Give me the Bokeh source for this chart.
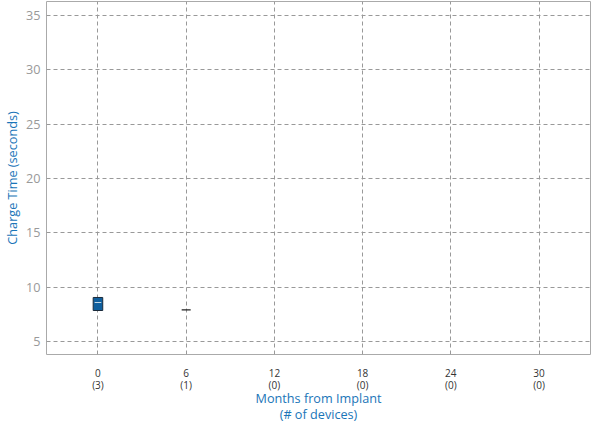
from bokeh.plotting import figure
from bokeh.embed import file_html
from bokeh.resources import INLINE
from bokeh.models import FixedTicker, ColumnDataSource, LinearAxis

months = [0, 6, 12, 18, 24, 30]
devices = [3, 1, 0, 0, 0, 0]

# box data (month 0)
box_x = [0]
box_q1 = [7.85]
box_q3 = [9.05]
box_med = [8.6]
# single device values
single_x = [6]
single_y = [7.9]

x_title = ["Months from Implant", "(# of devices)"]
y_title = "Charge Time (seconds)"
y_ticks = [5, 10, 15, 20, 25, 30, 35]

FONT = "Open Sans"
BLUE = "#1a75b8"

p = figure(width=591, height=425, output_backend="svg", toolbar_location=None,
           x_range=(-3.5, 33.5), y_range=(3.8, 36.3),
           min_border_left=43, min_border_right=1, min_border_top=1, min_border_bottom=0)

p.outline_line_color = "#aaaaaa"
p.outline_line_width = 1


def style(ax):
    ax.axis_line_color = None
    ax.major_tick_line_color = None
    ax.minor_tick_line_color = None
    ax.major_tick_out = 0
    ax.major_tick_in = 0
    ax.minor_tick_out = 0
    ax.minor_tick_in = 0
    ax.major_label_text_font = FONT
    ax.axis_label_text_font = FONT
    ax.axis_label_text_font_style = "normal"
    ax.axis_label_text_color = BLUE


# row 1: month numbers
ax1 = p.xaxis[0]
style(ax1)
ax1.ticker = FixedTicker(ticks=months)
ax1.major_label_text_color = "#333333"
ax1.major_label_text_font_size = "7.5pt"
ax1.major_label_standoff = 14

# row 2: device counts
ax2 = LinearAxis(ticker=FixedTicker(ticks=months))
style(ax2)
ax2.major_label_overrides = {m: f"({d})" for m, d in zip(months, devices)}
ax2.major_label_text_color = "#333333"
ax2.major_label_text_font_size = "7.5pt"
ax2.major_label_standoff = -2
p.add_layout(ax2, "below")

# axis title lines
for txt, so in zip(x_title, [-6, -5]):
    ax = LinearAxis(ticker=FixedTicker(ticks=[]))
    style(ax)
    ax.major_label_standoff = 0
    ax.major_label_text_font_size = "0pt"
    ax.axis_label = txt
    ax.axis_label_standoff = so
    ax.axis_label_text_font_size = "9.5pt"
    p.add_layout(ax, "below")

style(p.yaxis[0])
p.yaxis.ticker = FixedTicker(ticks=y_ticks)
p.yaxis.major_label_text_color = "#999999"
p.yaxis.major_label_text_font_size = "9.5pt"
p.yaxis.major_label_standoff = 6
p.yaxis.axis_label = y_title
p.yaxis.axis_label_text_font_size = "9.5pt"
p.yaxis.axis_label_standoff = 2

for g in (p.xgrid[0], p.ygrid[0]):
    g.grid_line_color = "#999999"
    g.grid_line_dash = "4 3"
    g.grid_line_width = 1

src = ColumnDataSource(dict(x=box_x, q1=box_q1, q3=box_q3, med=box_med))
p.vbar(x="x", bottom="q1", top="q3", width=0.65, source=src,
       fill_color="#0f5f9e", line_color="#1a2a3a", line_width=1)
p.rect(x="x", y="med", width=0.45, height=0.08, source=src,
       fill_color="white", line_color=None)

p.dash(x=single_x, y=single_y, size=9, line_color="#222222", line_width=1.3, angle=0)

open("out.html", "w").write(file_html(p, INLINE))
